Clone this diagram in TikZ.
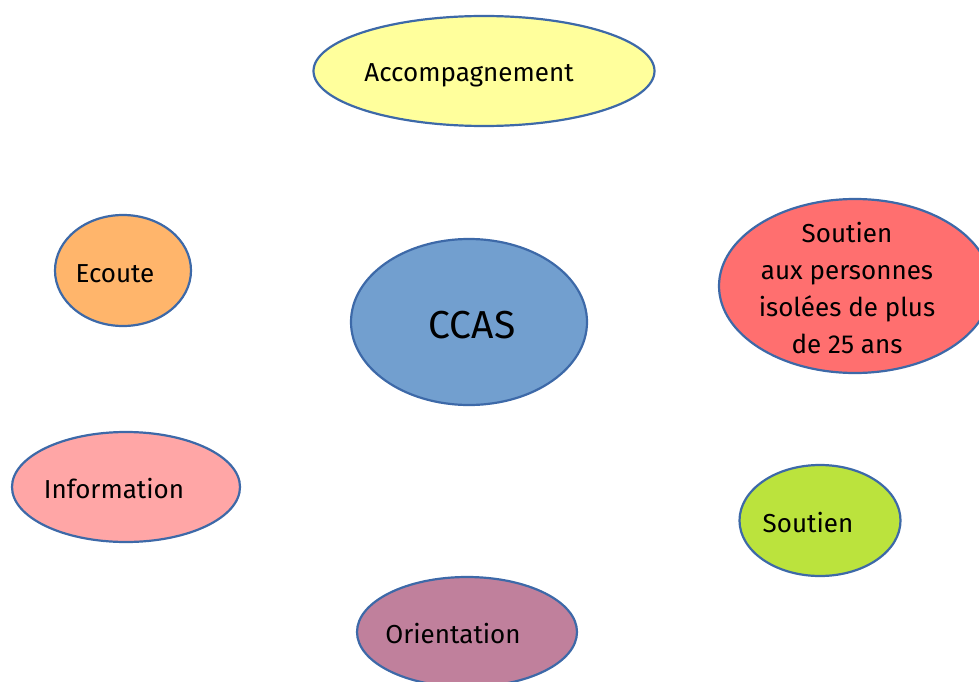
\documentclass[tikz,border=0pt]{standalone}
\usepackage{fontspec}
\setmainfont{Fira Sans}
\usetikzlibrary{shapes.geometric}
\definecolor{edge}{HTML}{3D69A8}
\definecolor{cacc}{HTML}{FFFF9C}
\definecolor{cecoute}{HTML}{FFB56B}
\definecolor{cccas}{HTML}{729FCF}
\definecolor{cpers}{HTML}{FF6F6F}
\definecolor{cinfo}{HTML}{FFA6A6}
\definecolor{csout}{HTML}{BBE33D}
\definecolor{corient}{HTML}{C0809C}
\tikzset{
  bubble/.style={ellipse, draw=edge, line width=2.2pt, inner sep=0pt},
  lbl/.style={anchor=base, inner sep=0pt, font=\fontsize{26}{37}\selectfont, align=center},
}
\begin{document}
\begin{tikzpicture}[x=1pt,y=-1pt]
\useasboundingbox (0,0) rectangle (979,682);
\clip (0,0) rectangle (979,682);
\node[bubble, fill=cacc, minimum width=341pt, minimum height=110pt] (acc) at (484,71) {};
\node[bubble, fill=cecoute, minimum width=136pt, minimum height=111pt] (ecoute) at (123,270.5) {};
\node[bubble, fill=cccas, minimum width=236pt, minimum height=166pt] (ccas) at (469,322) {};
\node[bubble, fill=cpers, minimum width=272pt, minimum height=174pt] (pers) at (855,286) {};
\node[bubble, fill=cinfo, minimum width=228pt, minimum height=110pt] (info) at (126,487) {};
\node[bubble, fill=csout, minimum width=161pt, minimum height=111pt] (sout) at (820,520.5) {};
\node[bubble, fill=corient, minimum width=220pt, minimum height=110pt] (orient) at (467,632) {};
\node[lbl] (tacc) at (469,82) {Accompagnement};
\node[lbl] (tecoute) at (115,282) {Ecoute};
\node[lbl, font=\fontsize{39}{48}\selectfont] (tccas) at (472,338) {CCAS};
\node[lbl] (tpers) at (847,353) {Soutien\\aux personnes\\isolées de plus\\de 25 ans};
\node[lbl] (tinfo) at (114,498) {Information};
\node[lbl] (tsout) at (808,532) {Soutien};
\node[lbl] (torient) at (453,643) {Orientation};
\end{tikzpicture}
\end{document}
